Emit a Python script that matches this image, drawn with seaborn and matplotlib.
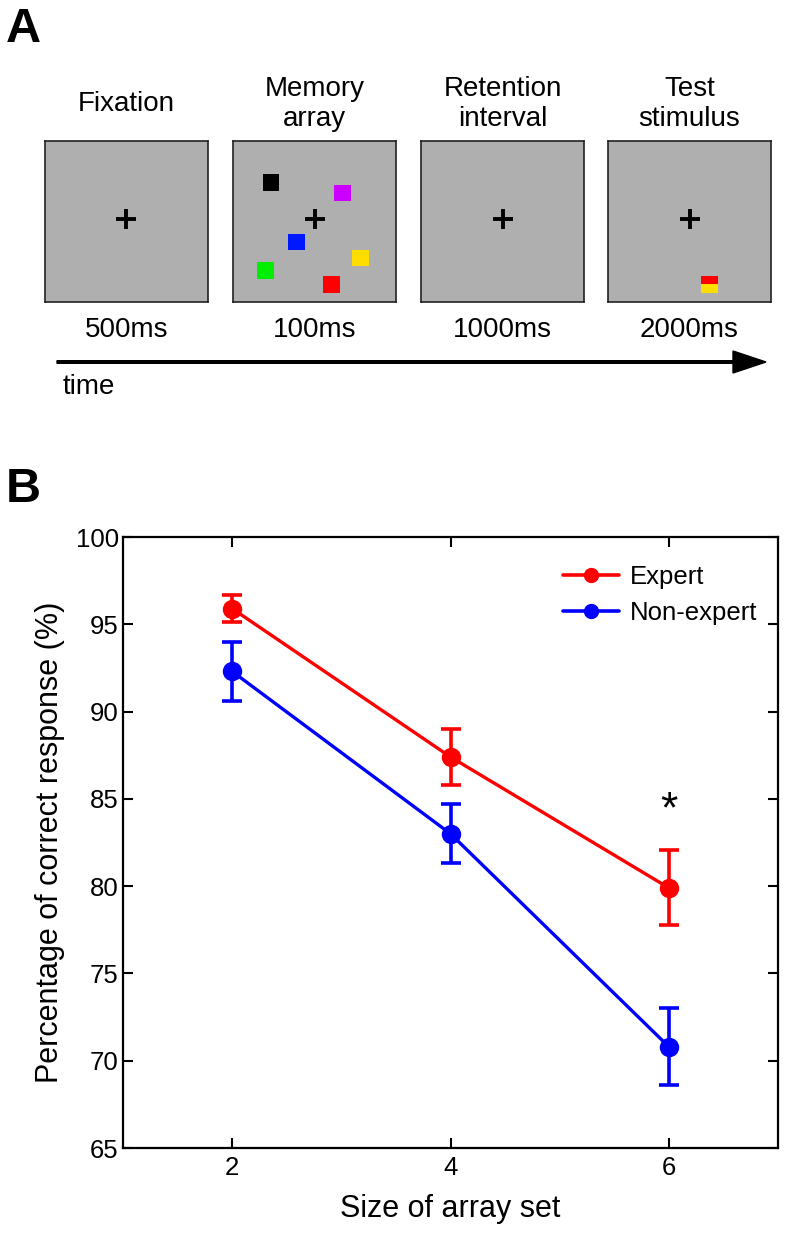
import numpy as np
import pandas as pd
import seaborn as sns
from matplotlib import pyplot as plt
from matplotlib.lines import Line2D
from matplotlib.patches import Rectangle, FancyArrow

# Panel A: trial sequence
STAGES = ["Fixation", "Memory\narray", "Retention\ninterval", "Test\nstimulus"]
DURATIONS = ["500ms", "100ms", "1000ms", "2000ms"]
# memory array items (centre x, centre y in screen units, colour)
ITEM_X = [0.233, 0.672, 0.390, 0.785, 0.200, 0.604]
ITEM_Y = [0.740, 0.677, 0.373, 0.273, 0.196, 0.109]
ITEM_COLORS = ["#000000", "#cc00ff", "#0018ff", "#ffdd00", "#00ee00", "#ff0000"]

# Panel B: accuracy by set size
SET_SIZE = [2, 4, 6]
EXPERT = [95.9, 87.4, 79.9]
EXPERT_ERR = [0.75, 1.6, 2.15]
NONEXPERT = [92.3, 83.0, 70.8]
NONEXPERT_ERR = [1.7, 1.7, 2.2]

W, H = 786, 1235
sns.set_theme(style="ticks")
plt.rcParams["font.family"] = ["Liberation Sans", "DejaVu Sans"]
plt.rcParams["text.color"] = "black"
plt.rcParams["axes.labelcolor"] = "black"

fig = plt.figure(figsize=(W / 100, H / 100), dpi=100)

GRAY = "#afafaf"
screen_left = [45, 233, 421, 608]
size_w, size_h = 163, 161
screen_top = 141

for i, (stage, dur) in enumerate(zip(STAGES, DURATIONS)):
    x0 = screen_left[i]
    ax = fig.add_axes([x0 / W, (H - screen_top - size_h) / H, size_w / W, size_h / H])
    ax.set_facecolor(GRAY)
    ax.set_xlim(0, 1)
    ax.set_ylim(0, 1)
    ax.set_xticks([])
    ax.set_yticks([])
    for s in ax.spines.values():
        s.set_color("#222222")
        s.set_linewidth(1.2)
    ax.plot(0.5, 0.515, marker="+", color="black", markersize=15, mew=2.8)
    if i == 1:
        for x, y, c in zip(ITEM_X, ITEM_Y, ITEM_COLORS):
            ax.add_patch(Rectangle((x - 0.052, y - 0.052), 0.104, 0.104, color=c, lw=0))
    if i == 3:
        ax.add_patch(Rectangle((0.571, 0.109), 0.104, 0.052, color="#ff0000", lw=0))
        ax.add_patch(Rectangle((0.571, 0.057), 0.104, 0.052, color="#ffdd00", lw=0))
    cx = (x0 + size_w / 2) / W
    fig.text(cx, (H - 104) / H, stage, ha="center", va="center",
             multialignment="center", fontsize=20, linespacing=1.2)
    fig.text(cx, (H - 330) / H, dur, ha="center", va="center", fontsize=20)

# time arrow
fig.add_artist(FancyArrow(
    57 / W, (H - 362) / H, (766 - 57) / W, 0, width=2.6 / H,
    head_width=22 / H, head_length=33 / W, length_includes_head=True,
    color="black", transform=fig.transFigure))
fig.text(63 / W, (H - 387) / H, "time", ha="left", va="center", fontsize=20)

fig.text(6 / W, (H - 29) / H, "A", ha="left", va="center", fontsize=35, fontweight="bold")
fig.text(6 / W, (H - 490) / H, "B", ha="left", va="center", fontsize=35, fontweight="bold")

# Panel B
axb = fig.add_axes([123 / W, (H - 1148) / H, (778 - 123) / W, (1148 - 537) / H])
df = pd.DataFrame({
    "size": SET_SIZE * 2,
    "acc": EXPERT + NONEXPERT,
    "group": ["Expert"] * 3 + ["Non-expert"] * 3,
})
palette = {"Expert": "#ff0000", "Non-expert": "#0000ff"}
sns.lineplot(data=df, x="size", y="acc", hue="group", palette=palette,
             marker="o", markersize=14, markeredgewidth=0, linewidth=2.4,
             legend=False, ax=axb)
for vals, errs, grp in [(EXPERT, EXPERT_ERR, "Expert"), (NONEXPERT, NONEXPERT_ERR, "Non-expert")]:
    axb.errorbar(SET_SIZE, vals, yerr=errs, fmt="none", ecolor=palette[grp],
                 elinewidth=2.6, capsize=7.5, capthick=2.6)

axb.text(6, 84.3, "*", ha="center", va="center", fontsize=32)

axb.set_xlim(1, 7)
axb.set_ylim(65, 100)
axb.set_xticks([2, 4, 6])
axb.set_yticks(np.arange(65, 101, 5))
axb.tick_params(direction="in", top=True, right=True, length=7, width=1.5,
                labelsize=18.5, colors="black")
axb.tick_params(axis="x", pad=6)
axb.tick_params(axis="y", pad=3)
for s in axb.spines.values():
    s.set_visible(True)
    s.set_linewidth(1.6)
    s.set_color("black")
axb.set_xlabel("Size of array set", fontsize=22, labelpad=10)
axb.set_ylabel("Percentage of correct response (%)", fontsize=22, labelpad=8)

handles = [Line2D([], [], color=palette[g], marker="o", markersize=10, lw=2.6, label=g)
           for g in ["Expert", "Non-expert"]]
axb.legend(handles=handles, loc="upper right", frameon=False, fontsize=18.5,
           handlelength=2.2, handletextpad=0.4, labelspacing=0.45,
           bbox_to_anchor=(1.003, 0.992))

fig.savefig("out.png", dpi=100)
